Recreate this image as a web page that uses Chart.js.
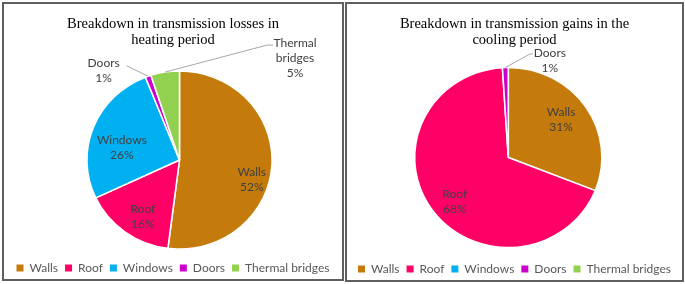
<!DOCTYPE html>
<html><head><meta charset="utf-8">
<script src="https://cdn.jsdelivr.net/npm/chart.js@4.4.0/dist/chart.umd.min.js"></script>
<style>
html,body{margin:0;padding:0;background:#fff;width:685px;height:284px;overflow:hidden}
.box{position:absolute;border:2px solid #5f5f5f;box-sizing:border-box;background:#fff}
#b1{left:2px;top:2px;width:342px;height:279px}
#b2{left:345px;top:2px;width:339px;height:280px}
canvas{display:block}
</style></head><body>
<div class="box" id="b1"><canvas id="c1" width="338" height="275"></canvas></div>
<div class="box" id="b2"><canvas id="c2" width="335" height="276"></canvas></div>
<script>
// ---- data ----
const categories = ['Walls', 'Roof', 'Windows', 'Doors', 'Thermal bridges'];
const heatingLosses = [52, 16, 26, 1, 5];   // %
const coolingGains  = [31, 68, 0, 1, 0];    // %
const heatingTitle = ['Breakdown in transmission losses in', 'heating period'];
const coolingTitle = ['Breakdown in transmission gains in the', 'cooling period'];
const sliceColors = ['#C47B0C', '#FF0066', '#00B0F0', '#CC00CC', '#92D050'];

// ---- label placement (style only) ----
const heatingPlace = [
  {r: 0.75, dx: 3, dy: 15},
  {r: 0.6, dx: -4, dy: 13},
  {r: 0.6, dx: -6, dy: 7},
  {outside: true, dx: -44.5, dy: -6, sx: 23, sy: -4.5},
  {outside: true, wrap: true, dx: 130, dy: -14, sx: -22, sy: -13, ex: -28}
];
const coolingPlace = [
  {r: 0.72, dx: -3, dy: -1},
  {r: 0.76, dx: 4, dy: 4},
  null,
  {outside: true, dx: 44.5, dy: -7, sx: -17, sy: -6.5, ex: -20},
  null
];

const centerPlugin = {
  id: 'centerArea',
  afterLayout(chart, args, opts) {
    const ca = chart.chartArea;
    const w = ca.right - ca.left, h = ca.bottom - ca.top;
    ca.left = opts.cx - w / 2; ca.right = opts.cx + w / 2;
    ca.top = opts.cy - h / 2; ca.bottom = opts.cy + h / 2;
  }
};

const labelPlugin = {
  id: 'sliceLabels',
  beforeDatasetsDraw(chart, args, opts) {
    const ctx = chart.ctx;
    const a = chart.getDatasetMeta(0).data[0];
    ctx.save();
    ctx.translate(a.x, a.y);
    ctx.scale(opts.sx, 1);
    ctx.translate(-a.x, -a.y);
  },
  afterDatasetsDraw(chart, args, opts) {
    const ctx = chart.ctx;
    ctx.restore();
    const meta = chart.getDatasetMeta(0);
    const ds = chart.data.datasets[0];
    ctx.save();
    meta.data.forEach((arc, i) => {
      const v = ds.data[i];
      const place = opts.place[i];
      if (!v || !place) return;
      const p = arc.getProps(['x', 'y', 'startAngle', 'endAngle', 'outerRadius'], true);
      const mid = (p.startAngle + p.endAngle) / 2;
      const name = chart.data.labels[i];
      const lines = (place.wrap ? name.split(' ') : [name]).concat([v + '%']);
      let lx, ly;
      if (place.outside) {
        const ax = p.x + Math.cos(mid) * p.outerRadius * opts.sx;
        const ay = p.y + Math.sin(mid) * p.outerRadius;
        lx = ax + place.dx; ly = ay + place.dy;
        ctx.strokeStyle = '#A6A6A6'; ctx.lineWidth = 1;
        ctx.beginPath();
        ctx.moveTo(lx + place.sx, ly + place.sy);
        if (place.ex !== undefined) ctx.lineTo(lx + place.ex, ly + place.sy);
        ctx.lineTo(ax, ay);
        ctx.stroke();
      } else {
        const r = p.outerRadius * place.r;
        lx = p.x + Math.cos(mid) * r * opts.sx + place.dx;
        ly = p.y + Math.sin(mid) * r + place.dy;
      }
      ctx.fillStyle = '#404040';
      ctx.font = '12px Lato';
      ctx.textAlign = 'center';
      ctx.textBaseline = 'middle';
      const lh = 15, y0 = ly - (lines.length - 1) * lh / 2;
      lines.forEach((t, k) => ctx.fillText(t, lx, y0 + k * lh));
    });
    ctx.restore();
  }
};

function makePie(id, values, title, place, cx, cy, radius) {
  return new Chart(document.getElementById(id), {
    type: 'pie',
    data: {
      labels: categories,
      datasets: [{
        data: values,
        backgroundColor: sliceColors,
        borderColor: '#ffffff',
        borderWidth: 1.5,
        radius: radius
      }]
    },
    options: {
      responsive: false,
      animation: false,
      events: [],
      layout: {padding: {bottom: -5}},
      plugins: {
        title: {
          display: true,
          text: title,
          color: '#000',
          font: {family: 'Liberation Serif', size: 14.5, weight: 'normal', lineHeight: 1.05},
          padding: {top: 13, bottom: 10}
        },
        legend: {
          position: 'bottom',
          labels: {
            boxWidth: 7, boxHeight: 7, padding: 7,
            color: '#595959',
            font: {family: 'Lato', size: 12},
            generateLabels(chart) {
              const items = Chart.overrides.pie.plugins.legend.labels.generateLabels(chart);
              items.forEach(it => { it.lineWidth = 0; it.strokeStyle = it.fillStyle; it.hidden = false; });
              return items;
            }
          }
        },
        tooltip: {enabled: false},
        centerArea: {cx: cx, cy: cy},
        sliceLabels: {place: place, sx: 1.04}
      }
    },
    plugins: [centerPlugin, labelPlugin]
  });
}

makePie('c1', heatingLosses, heatingTitle, heatingPlace, 175.5, 156, 89);
makePie('c2', coolingGains, coolingTitle, coolingPlace, 161.3, 153.5, 90);
</script>
</body></html>
